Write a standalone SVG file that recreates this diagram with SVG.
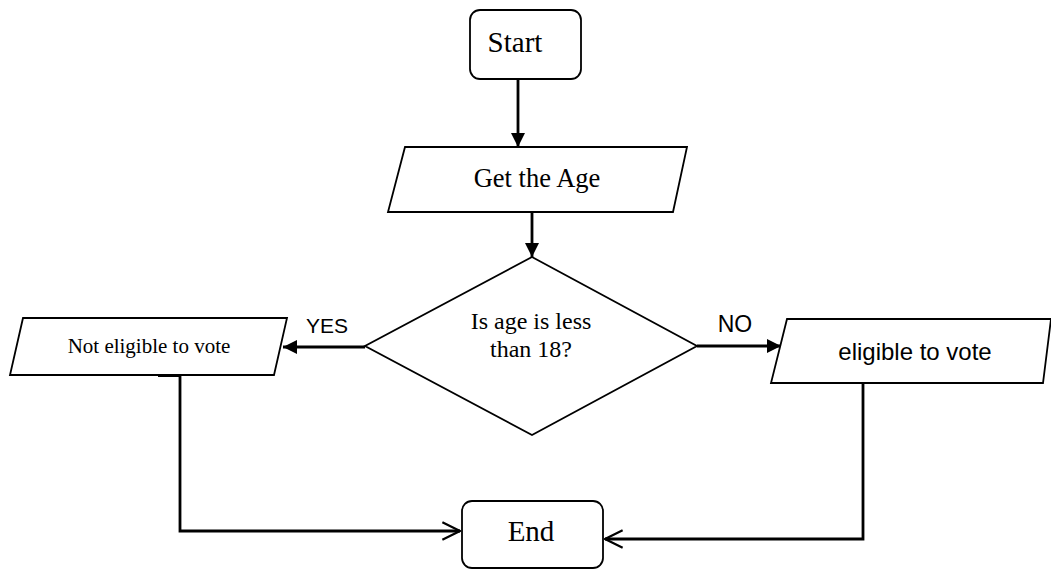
<svg xmlns="http://www.w3.org/2000/svg" width="1051" height="569" viewBox="0 0 1051 569">
  <style>
    .shape { fill: #ffffff; stroke: #000000; stroke-width: 1.8; }
    .conn { fill: none; stroke: #000000; stroke-width: 2.8; }
    .serif { font-family: "Liberation Serif", "Times New Roman", serif; fill: #000000; }
    .sans { font-family: "Liberation Sans", Arial, sans-serif; fill: #000000; }
  </style>
  <defs>
    <marker id="solid" viewBox="0 0 10 10" refX="10" refY="5" markerWidth="5.6" markerHeight="5" markerUnits="strokeWidth" orient="auto">
      <path d="M0,0 L10,5 L0,10 Z" fill="#000000"/>
    </marker>
    <marker id="open" viewBox="0 0 20 20" refX="19" refY="10" markerWidth="7" markerHeight="7" markerUnits="strokeWidth" orient="auto">
      <path d="M1,1 L19,10 L1,19" fill="none" stroke="#000000" stroke-width="2.2"/>
    </marker>
  </defs>

  <rect width="1051" height="569" fill="#ffffff"/>

  <!-- connectors -->
  <g id="connectors">
    <line class="conn" x1="518" y1="80" x2="518" y2="147" marker-end="url(#solid)"/>
    <line class="conn" x1="532" y1="212" x2="532" y2="257" marker-end="url(#solid)"/>
    <line class="conn" x1="365" y1="347" x2="283" y2="347" marker-end="url(#solid)"/>
    <line class="conn" x1="697" y1="346" x2="781" y2="346" marker-end="url(#solid)"/>
    <path class="conn" d="M158,375.5 H180 V531 H460" marker-end="url(#open)"/>
    <path class="conn" d="M863,383 V539 H605" marker-end="url(#open)"/>
  </g>

  <g id="start">
    <rect class="shape" x="470" y="10" width="111" height="69" rx="10" ry="10"/>
    <text class="serif" x="515" y="52" font-size="29" text-anchor="middle">Start</text>
  </g>

  <g id="get-age">
    <polygon class="shape" points="405,147 687,147 673,212 388,212"/>
    <text class="serif" x="537" y="187" font-size="26.5" text-anchor="middle">Get the Age</text>
  </g>

  <g id="decision">
    <polygon class="shape" points="532,257 697,346 532,435 365,346"/>
    <text class="serif" x="531" y="329" font-size="24" text-anchor="middle">Is age is less</text>
    <text class="serif" x="531" y="357" font-size="24" text-anchor="middle">than 18?</text>
  </g>

  <g id="not-eligible">
    <polygon class="shape" points="23,318 287,318 274,375 10,375"/>
    <text class="serif" x="149" y="353" font-size="21" text-anchor="middle">Not eligible to vote</text>
  </g>

  <g id="eligible">
    <polygon class="shape" points="787,319 1051,319 1043,383 771,383"/>
    <text class="sans" x="915" y="360" font-size="24" text-anchor="middle">eligible to vote</text>
  </g>

  <g id="end">
    <rect class="shape" x="462" y="501" width="141" height="67" rx="10" ry="10"/>
    <text class="serif" x="531" y="541" font-size="29" text-anchor="middle">End</text>
  </g>

  <g id="labels">
    <text class="sans" x="327" y="333" font-size="21" text-anchor="middle">YES</text>
    <text class="sans" x="735" y="332" font-size="23" text-anchor="middle">NO</text>
  </g>
</svg>
